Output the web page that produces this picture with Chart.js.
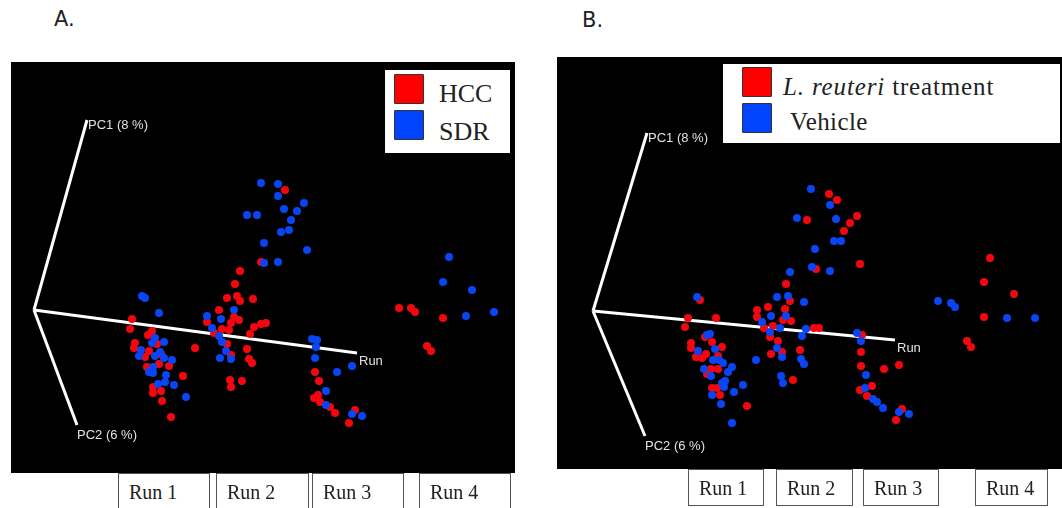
<!DOCTYPE html>
<html>
<head>
<meta charset="utf-8">
<script src="https://cdn.jsdelivr.net/npm/chart.js@4"></script>
<style>
    html, body { margin: 0; padding: 0; background: #fff; overflow: hidden; }
    body { position: relative; width: 1062px; height: 508px; }
    canvas { position: absolute; background: #000; }
    #chartA { left: 11px; top: 62px; }
    #chartB { left: 557px; top: 57px; }
    .tag { position: absolute; font: 21px "DejaVu Sans", sans-serif; color: #222; line-height: 24px; }
    .legend { position: absolute; background: #fff; font-family: "Liberation Serif", serif; color: #222; }
    .swatch { position: absolute; border: 1px solid #333; box-sizing: border-box; border-radius: 1px; }
    .legend span { position: absolute; white-space: nowrap; line-height: 30px; }
    .run {
        position: absolute; box-sizing: border-box; background: #fff; border: 1px solid #555;
        font: 20px/36px "Liberation Serif", serif; color: #222; padding-left: 10px;
    }
</style>
</head>
<body>
<div class="tag" style="left:54px;top:7px">A.</div>
<div class="tag" style="left:582px;top:8px">B.</div>

<canvas id="chartA" width="504" height="411"></canvas>
<canvas id="chartB" width="505" height="412"></canvas>

<div class="legend" style="left:385px;top:70px;width:125px;height:83px;font-size:26px">
    <div class="swatch" style="left:9px;top:4px;width:30px;height:30px;background:#ff0000"></div>
    <div class="swatch" style="left:9px;top:40px;width:30px;height:30px;background:#0044ff"></div>
    <span style="left:54px;top:9px">HCC</span>
    <span style="left:54px;top:47px">SDR</span>
</div>
<div class="legend" style="left:723px;top:64px;width:337px;height:79px;font-size:25px">
    <div class="swatch" style="left:19px;top:3px;width:30px;height:30px;background:#ff0000"></div>
    <div class="swatch" style="left:19px;top:39px;width:30px;height:30px;background:#0044ff"></div>
    <span style="left:60px;top:8px;letter-spacing:0.85px"><i>L. reuteri</i> treatment</span>
    <span style="left:67px;top:43px;letter-spacing:0.4px">Vehicle</span>
</div>

<div id="runsA"></div>
<div id="runsB"></div>

<script>
Chart.defaults.animation = false;

const RED = '#f5060f';
const BLUE = '#0a45f5';

const runLabels = ['Run 1', 'Run 2', 'Run 3', 'Run 4'];
const axisNames = ['PC1 (8 %)', 'PC2 (6 %)', 'Run'];

// -- Panel A: values ----------------------------------------------------
const hccA = [
    [132,319],[130,329],[152,331],[148,335],[135,343],[134,348],[157,344],[149,351],[145,357],[161,354],
    [159,364],[169,366],[147,367],[195,348],[183,376],[153,387],[153,393],[161,391],[162,401],[171,417],
    [240,271],[235,284],[227,298],[237,296],[240,301],[253,299],[219,310],[234,317],[239,320],[231,323],
    [207,322],[222,329],[229,330],[214,333],[254,327],[261,324],[266,323],[250,334],[227,344],[247,349],
    [231,355],[249,359],[252,363],[230,380],[242,381],[231,387],
    [285,190],[261,262],
    [315,372],[319,381],[318,395],[314,398],[320,402],[330,407],[335,413],[355,410],[349,423],
    [399,308],[411,308],[415,312],[443,318],[427,346],[431,351],
];
const sdrA = [
    [142,296],[145,298],[159,313],[155,338],[152,343],[164,342],[141,350],[139,356],[155,356],[160,352],
    [164,358],[172,360],[153,367],[149,372],[153,373],[166,375],[165,382],[158,384],[174,385],[186,397],
    [234,310],[207,316],[221,319],[212,328],[219,336],[222,342],[226,351],[220,358],[231,359],
    [261,183],[278,184],[278,196],[247,215],[257,215],[284,209],[297,211],[304,203],[291,220],[289,230],
    [281,232],[264,243],[307,250],[264,263],[278,262],
    [312,339],[317,340],[316,347],[315,358],[352,366],[337,372],[326,391],[326,405],[362,416],[352,414],
    [449,257],[443,282],[472,290],[466,316],[494,312],
];
const axisOriginA = [34, 310];
const axisEndsA = [[87,120],[77,425],[357,353]];

// -- Panel B ------------------------------------------------------------
const reuteriB = [
    [700,300],[688,318],[685,327],[716,318],[691,343],[691,348],[705,337],[712,342],[722,347],[706,354],
    [696,357],[702,358],[718,356],[711,369],[718,369],[707,374],[712,388],[717,388],[720,395],[747,406],
    [786,284],[790,301],[768,307],[757,310],[757,317],[785,309],[791,321],[783,320],[773,326],[764,328],
    [770,337],[778,341],[771,354],[782,352],[800,350],[793,380],[814,328],[819,328],
    [829,194],[837,200],[807,220],[857,216],[850,223],[844,231],[816,269],[860,264],
    [862,335],[861,352],[861,366],[884,369],[899,365],[872,386],[860,390],[867,396],[902,409],[896,420],
    [990,258],[984,282],[1014,294],[984,317],[967,341],[971,347],
];
const vehicleB = [
    [697,297],[777,297],[788,296],[804,302],[771,316],[786,316],[762,322],[770,332],[780,328],[806,329],
    [802,336],[707,335],[710,334],[715,349],[698,351],[713,360],[719,360],[723,363],[732,367],[728,372],
    [704,369],[711,376],[725,381],[722,383],[724,387],[743,385],[734,392],[712,395],[721,404],[732,423],
    [756,360],[777,348],[782,357],[801,359],[804,364],[781,376],[783,383],
    [811,189],[830,205],[797,218],[836,219],[834,241],[841,241],[815,249],[812,267],[830,271],[790,272],
    [857,333],[861,341],[866,375],[865,388],[873,399],[877,402],[883,408],[909,414],[899,412],
    [938,301],[951,303],[955,307],[1007,318],[1035,318],
];
const axisOriginB = [593, 311];
const axisEndsB = [[647,133],[645,436],[895,340]];

const toXY = ([x, y]) => ({ x, y });

function pointSet(rows, color, order) {
    return {
        data: rows.map(toXY), backgroundColor: color, borderColor: color,
        pointRadius: 4, pointBorderWidth: 0, order,
    };
}

function axisSet(origin, end) {
    return {
        data: [origin, end].map(toXY), showLine: true, borderColor: '#fff',
        borderWidth: 3, pointRadius: 0, order: 5,
    };
}

// axis captions sit next to the far end of each white line
const axisCaptions = {
    id: 'axisCaptions',
    afterDatasetsDraw(chart, args, opts) {
        const { ctx, scales } = chart;
        ctx.save();
        ctx.font = '13px "Liberation Sans", sans-serif';
        ctx.fillStyle = '#e2e2e2';
        ctx.textBaseline = 'middle';
        opts.ends.forEach((end, i) => {
            const x = scales.x.getPixelForValue(end[0]) + opts.shift[i][0];
            const y = scales.y.getPixelForValue(end[1]) + opts.shift[i][1];
            ctx.fillText(axisNames[i], x, y);
        });
        ctx.restore();
    },
};

function scatterPanel(id, red, blue, origin, ends, xRange, yRange) {
    new Chart(document.getElementById(id), {
        type: 'scatter',
        data: {
            datasets: [
                pointSet(blue, BLUE, 1),
                pointSet(red, RED, 2),
                ...ends.map((end) => axisSet(origin, end)),
            ],
        },
        options: {
            responsive: false,
            layout: { padding: 0, autoPadding: false },
            plugins: {
                legend: { display: false },
                tooltip: { enabled: false },
                axisCaptions: { ends, shift: [[1, 5], [0, 10], [2, 8]] },
            },
            scales: {
                x: { display: false, min: xRange[0], max: xRange[1] },
                y: { display: false, min: yRange[0], max: yRange[1], reverse: true },
            },
        },
        plugins: [axisCaptions],
    });
}

scatterPanel('chartA', hccA, sdrA, axisOriginA, axisEndsA, [11, 515], [62, 473]);
scatterPanel('chartB', reuteriB, vehicleB, axisOriginB, axisEndsB, [557, 1062], [57, 469]);

// -- Run boxes under the panels -----------------------------------------
function runBoxes(holderId, boxes, top, height) {
    const holder = document.getElementById(holderId);
    holder.innerHTML = runLabels.map((label, i) =>
        `<div class="run" style="left:${boxes[i][0]}px;width:${boxes[i][1] - boxes[i][0]}px;top:${top}px;height:${height}px">${label}</div>`
    ).join('');
}

runBoxes('runsA', [[118,210],[216,309],[312,404],[419,511]], 473, 40);
runBoxes('runsB', [[688,764],[776,853],[863,939],[975,1048]], 469, 37);
</script>
</body>
</html>
